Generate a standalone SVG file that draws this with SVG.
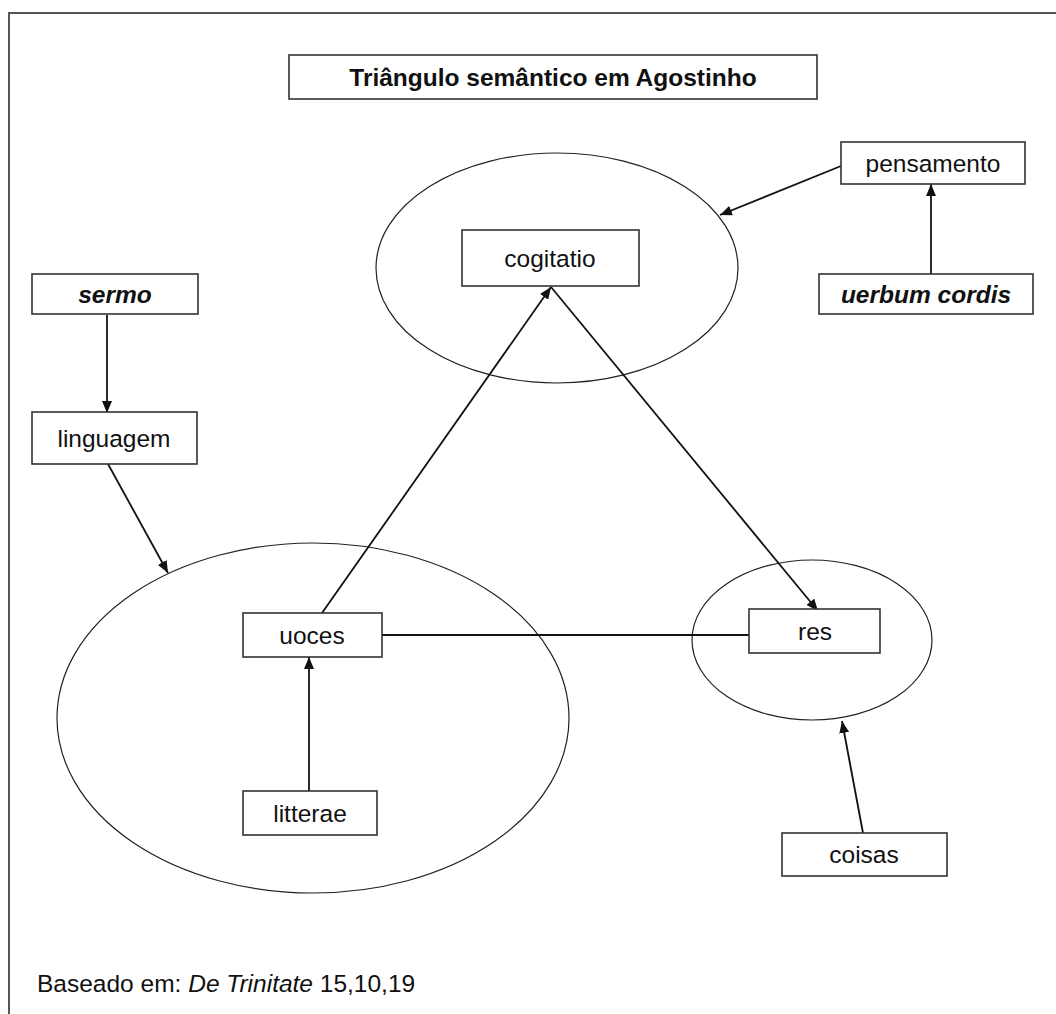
<svg xmlns="http://www.w3.org/2000/svg" width="1056" height="1014" viewBox="0 0 1056 1014">
<style>
.box{fill:#fff;stroke:#333;stroke-width:1.6}
.ell{fill:none;stroke:#222;stroke-width:1.2}
.t{font-family:"Liberation Sans",Arial,sans-serif;font-size:24.5px;fill:#111;text-anchor:middle}
.b{font-weight:bold}
.bi{font-weight:bold;font-style:italic}
.con{stroke:#111;stroke-width:1.8;fill:none}
.arr{marker-end:url(#ah)}
</style>
<defs>
<marker id="ah" viewBox="0 0 12 10" refX="12" refY="5" markerWidth="12" markerHeight="10" markerUnits="userSpaceOnUse" orient="auto">
<path d="M0,0 L12,5 L0,10 Z" fill="#111"/>
</marker>
</defs>
<rect width="1056" height="1014" fill="#fff"/>
<path d="M9,1014 V13 H1056" fill="none" stroke="#555" stroke-width="2"/>

<g id="ellipses">
<ellipse id="ell-cogitatio" class="ell" cx="557" cy="268" rx="181" ry="115"/>
<ellipse id="ell-uoces" class="ell" cx="313" cy="718" rx="256" ry="175"/>
<ellipse id="ell-res" class="ell" cx="812" cy="640" rx="120" ry="80"/>
</g>

<g id="connectors">
<line class="con arr" x1="107" y1="315" x2="107" y2="413"/>
<line class="con arr" x1="108" y1="464" x2="168" y2="573"/>
<line class="con arr" x1="841" y1="166" x2="720" y2="215"/>
<line class="con arr" x1="931" y1="274" x2="931" y2="184"/>
<line class="con arr" x1="322" y1="613" x2="551" y2="287"/>
<line class="con arr" x1="551" y1="287" x2="818" y2="611"/>
<line class="con" x1="382" y1="635" x2="749" y2="635"/>
<line class="con arr" x1="309" y1="791" x2="309" y2="657"/>
<line class="con arr" x1="863" y1="833" x2="842" y2="721"/>
</g>

<g id="title"><rect class="box" x="289" y="55" width="528" height="44"/><text class="t b" x="553" y="86">Triângulo semântico em Agostinho</text></g>
<g id="pensamento"><rect class="box" x="841" y="142" width="184" height="42"/><text class="t" x="933" y="172">pensamento</text></g>
<g id="uerbum-cordis"><rect class="box" x="819" y="274" width="214" height="40"/><text class="t bi" x="926" y="303">uerbum cordis</text></g>
<g id="sermo"><rect class="box" x="32" y="274" width="166" height="40"/><text class="t bi" x="115" y="303">sermo</text></g>
<g id="linguagem"><rect class="box" x="32" y="412" width="165" height="52"/><text class="t" x="114" y="447">linguagem</text></g>
<g id="cogitatio"><rect class="box" x="462" y="230" width="177" height="56"/><text class="t" x="550" y="267">cogitatio</text></g>
<g id="uoces"><rect class="box" x="243" y="613" width="139" height="44"/><text class="t" x="312" y="644">uoces</text></g>
<g id="res"><rect class="box" x="749" y="609" width="131" height="44"/><text class="t" x="815" y="640">res</text></g>
<g id="litterae"><rect class="box" x="243" y="791" width="134" height="44"/><text class="t" x="310" y="822">litterae</text></g>
<g id="coisas"><rect class="box" x="782" y="833" width="165" height="43"/><text class="t" x="864" y="863">coisas</text></g>

<text class="t" x="37" y="992" style="text-anchor:start">Baseado em: <tspan font-style="italic">De Trinitate</tspan> 15,10,19</text>
</svg>
